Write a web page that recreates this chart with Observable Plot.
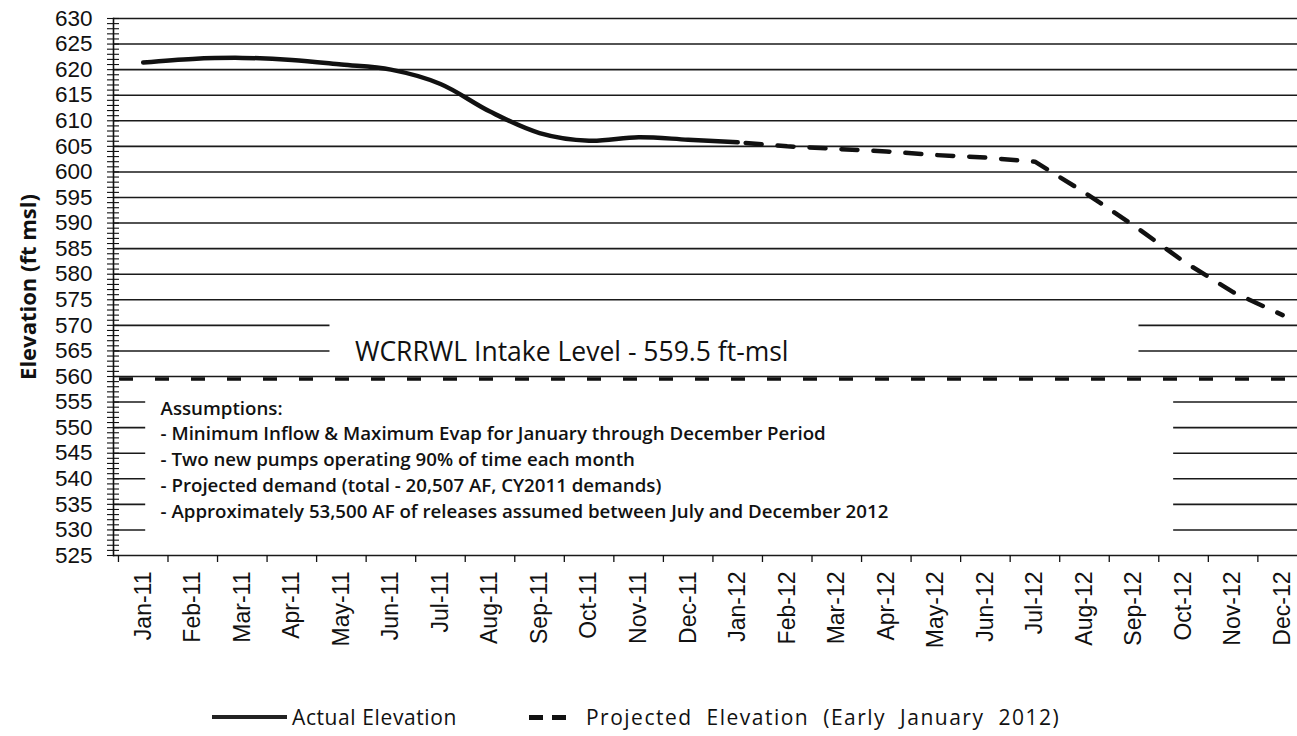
<!DOCTYPE html>
<html>
<head>
<meta charset="utf-8">
<script src="https://cdn.jsdelivr.net/npm/d3@7"></script>
<script src="https://cdn.jsdelivr.net/npm/@observablehq/plot@0.6"></script>
<style>
  html, body { margin: 0; padding: 0; background: #fff; }
  body { position: relative; width: 1297px; height: 736px; overflow: hidden; font-family: "Open Sans", sans-serif; color: #111; }
  #legend { position: absolute; top: 703px; left: 212px; display: flex; align-items: center; font-size: 21px; line-height: 28px; white-space: nowrap; }
  .solid { display: inline-block; width: 75px; border-top: 4px solid #222; margin-right: 5px; }
  .dash { display: inline-block; width: 14px; border-top: 5px solid #111; margin-right: 9px; }
</style>
</head>
<body>
<div id="chart"></div>
<div id="legend"></div>
<script>
// ---- data ----
const months = ["Jan-11","Feb-11","Mar-11","Apr-11","May-11","Jun-11","Jul-11","Aug-11","Sep-11","Oct-11","Nov-11","Dec-11",
                "Jan-12","Feb-12","Mar-12","Apr-12","May-12","Jun-12","Jul-12","Aug-12","Sep-12","Oct-12","Nov-12","Dec-12"];
// Actual Elevation, Jan-11 .. Jan-12
const actual = [621.4, 622.1, 622.3, 621.9, 621.0, 620.0, 617.2, 611.8, 607.6, 606.1, 606.8, 606.3, 605.8];
// Projected Elevation (Early January 2012), Jan-12 .. Dec-12
const projected = [605.8, 605.0, 604.5, 604.0, 603.3, 602.8, 602.0, 596.0, 589.5, 582.5, 576.5, 572.0];
const projectedStart = 12;
const intakeLevel = 559.5;
const yTicks = d3.range(525, 631, 5);
const yMinorTicks = d3.range(525, 631, 1);
const yTitle = "Elevation (ft msl)";
const intakeLabel = "WCRRWL Intake Level - 559.5 ft-msl";
const assumptions = [
  "Assumptions:",
  "- Minimum Inflow & Maximum Evap for January through December Period",
  "- Two new pumps operating 90% of time each month",
  "- Projected demand (total - 20,507 AF, CY2011 demands)",
  "- Approximately 53,500 AF of releases assumed between July and December 2012"
];
const legendLabels = ["Actual Elevation", "Projected Elevation (Early January 2012)"];

// ---- chart ----
const H = 690;
const idx = months.map((m, i) => i);
const actualData = actual.map((v, i) => ({i, v}));
const projectedData = projected.map((v, k) => ({i: k + projectedStart, v}));

// white backgrounds of the two text boxes (they hide the gridlines behind them)
const boxes = [
  {x1: 3.77, x2: 20.1, y1: 562.3, y2: 572.6},
  {x1: 0.05, x2: 20.8, y1: 526.4, y2: 557.6}
];

const chart = Plot.plot({
  width: 1297,
  height: H,
  marginLeft: 113,
  marginRight: 0,
  marginTop: 18,
  marginBottom: H - 555,
  x: {type: "linear", domain: [-0.6, 23.3]},
  y: {domain: [525, 630]},
  style: {fontFamily: "Open Sans, sans-serif", color: "#111", background: "#fff", overflow: "visible"},
  marks: [
    Plot.ruleY(yTicks, {stroke: "#1a1a1a", strokeWidth: 1.6}),
    Plot.rect(boxes, {x1: "x1", x2: "x2", y1: "y1", y2: "y2", fill: "white"}),
    Plot.ruleY([intakeLevel], {stroke: "#111", strokeWidth: 3.5, strokeDasharray: "14,22", strokeDashoffset: -6}),
    Plot.frame({anchor: "left", stroke: "#111", strokeWidth: 1.6}),
    Plot.axisY({ticks: yMinorTicks, tickSize: 12, dx: 6, tickFormat: () => "", label: null, strokeWidth: 1.1}),
    Plot.axisY({ticks: yTicks, tickSize: 0, tickPadding: 21, fontSize: 22.5, fontFamily: "Liberation Sans, Arial, sans-serif", tickFormat: d => String(d), label: null}),
    Plot.axisX({ticks: d3.range(-0.5, 23.5, 1), tickSize: 7, tickFormat: () => "", label: null, strokeWidth: 1.3}),
    Plot.axisX({ticks: idx, tickSize: 0, tickPadding: 16, tickRotate: -90, fontSize: 23, fontFamily: "Liberation Sans, Arial, sans-serif", tickFormat: i => months[i], label: null}),
    Plot.line(actualData, {x: "i", y: "v", curve: "catmull-rom", stroke: "#111", strokeWidth: 4.5}),
    Plot.line(projectedData, {x: "i", y: "v", stroke: "#111", strokeWidth: 4.5, strokeDasharray: "16,16", strokeDashoffset: -8}),
    Plot.text([intakeLabel], {x: 8.65, y: 564.7, text: d => d, fontSize: 26.5}),
    Plot.text(assumptions, {x: 0.35, y: (d, k) => 553.7 - k * 5.04, text: d => d, textAnchor: "start", fontSize: 18.7, fontWeight: 600}),
    Plot.text([yTitle], {frameAnchor: "left", dx: -85, rotate: -90, textAnchor: "middle", text: d => d, fontSize: 22, fontWeight: 700})
  ]
});
// drop the empty labels of the minor-tick axis
chart.querySelectorAll("text").forEach(t => { if (t.textContent === "") t.remove(); });
document.getElementById("chart").appendChild(chart);

// ---- legend (below the SVG) ----
const legend = document.getElementById("legend");
legend.innerHTML =
  `<span class="solid"></span><span style="letter-spacing:0.6px">${legendLabels[0]}</span>` +
  `<span style="display:inline-block;width:72px"></span>` +
  `<span class="dash"></span><span class="dash" style="margin-right:20px"></span>` +
  `<span style="letter-spacing:1.5px;word-spacing:7px">${legendLabels[1]}</span>`;
</script>
</body>
</html>
